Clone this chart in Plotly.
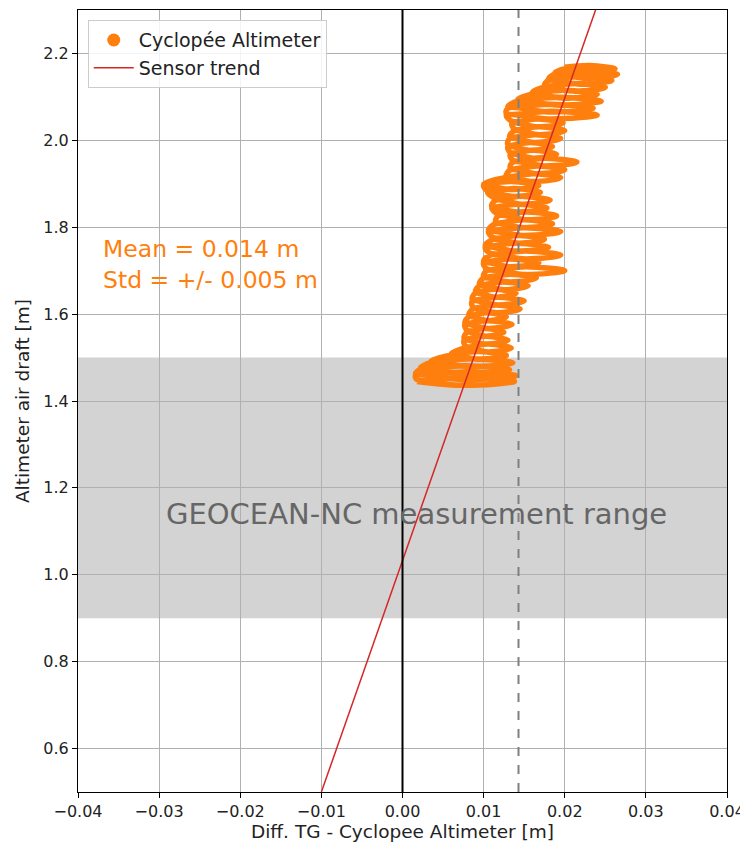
import plotly.graph_objects as go

diff_x = [
    0.0018, 0.0078, 0.0138, 0.0078, 0.0018,  0.0016, 0.0078, 0.0140, 0.0078, 0.0016,
    0.0022, 0.0077, 0.0132, 0.0077, 0.0022,  0.0035, 0.0086, 0.0136, 0.0086, 0.0035,
    0.0060, 0.0094, 0.0128, 0.0094, 0.0060,  0.0078, 0.0106, 0.0134, 0.0106, 0.0078,
    0.0076, 0.0103, 0.0130, 0.0103, 0.0076,  0.0080, 0.0103, 0.0125, 0.0103, 0.0080,
    0.0077, 0.0106, 0.0135, 0.0106, 0.0077,  0.0082, 0.0105, 0.0128, 0.0105, 0.0082,
    0.0087, 0.0116, 0.0145, 0.0116, 0.0087,  0.0086, 0.0118, 0.0150, 0.0118, 0.0086,
    0.0090, 0.0115, 0.0140, 0.0115, 0.0090,  0.0095, 0.0125, 0.0155, 0.0125, 0.0095,
    0.0100, 0.0133, 0.0165, 0.0133, 0.0100,  0.0104, 0.0152, 0.0200, 0.0152, 0.0104,
    0.0100, 0.0134, 0.0168, 0.0134, 0.0100,  0.0108, 0.0152, 0.0195, 0.0152, 0.0108,
    0.0102, 0.0141, 0.0180, 0.0141, 0.0102,  0.0112, 0.0144, 0.0175, 0.0144, 0.0112,
    0.0106, 0.0151, 0.0195, 0.0151, 0.0106,  0.0115, 0.0150, 0.0185, 0.0150, 0.0115,
    0.0118, 0.0154, 0.0190, 0.0154, 0.0118,  0.0110, 0.0144, 0.0178, 0.0144, 0.0110,
    0.0115, 0.0149, 0.0182, 0.0149, 0.0115,  0.0105, 0.0138, 0.0170, 0.0138, 0.0105,
    0.0100, 0.0134, 0.0168, 0.0134, 0.0100,  0.0128, 0.0162, 0.0195, 0.0162, 0.0128,
    0.0133, 0.0167, 0.0200, 0.0167, 0.0133,  0.0136, 0.0176, 0.0215, 0.0176, 0.0136,
    0.0133, 0.0162, 0.0190, 0.0162, 0.0133,  0.0130, 0.0158, 0.0185, 0.0158, 0.0130,
    0.0132, 0.0164, 0.0195, 0.0164, 0.0132,  0.0138, 0.0169, 0.0200, 0.0169, 0.0138,
    0.0135, 0.0167, 0.0198, 0.0167, 0.0135,  0.0128, 0.0184, 0.0240, 0.0184, 0.0128,
    0.0130, 0.0183, 0.0235, 0.0183, 0.0130,  0.0142, 0.0194, 0.0245, 0.0194, 0.0142,
    0.0160, 0.0200, 0.0240, 0.0200, 0.0160,  0.0175, 0.0213, 0.0250, 0.0213, 0.0175,
    0.0180, 0.0219, 0.0258, 0.0219, 0.0180,  0.0188, 0.0227, 0.0265, 0.0227, 0.0188,
    0.0200, 0.0231, 0.0262, 0.0231, 0.0200,
]
air_draft = [
    1.445, 1.436, 1.445, 1.454, 1.449,  1.458, 1.449, 1.458, 1.467, 1.462,
    1.472, 1.463, 1.472, 1.481, 1.476,  1.488, 1.479, 1.488, 1.497, 1.492,
    1.505, 1.496, 1.505, 1.514, 1.509,  1.522, 1.513, 1.522, 1.531, 1.526,
    1.540, 1.531, 1.540, 1.549, 1.544,  1.558, 1.549, 1.558, 1.567, 1.562,
    1.576, 1.567, 1.576, 1.585, 1.580,  1.594, 1.585, 1.594, 1.603, 1.598,
    1.612, 1.603, 1.612, 1.621, 1.616,  1.630, 1.621, 1.630, 1.639, 1.634,
    1.648, 1.639, 1.648, 1.657, 1.652,  1.665, 1.656, 1.665, 1.674, 1.669,
    1.683, 1.674, 1.683, 1.692, 1.687,  1.700, 1.691, 1.700, 1.709, 1.704,
    1.718, 1.709, 1.718, 1.727, 1.722,  1.736, 1.727, 1.736, 1.745, 1.740,
    1.754, 1.745, 1.754, 1.763, 1.758,  1.772, 1.763, 1.772, 1.781, 1.776,
    1.790, 1.781, 1.790, 1.799, 1.794,  1.808, 1.799, 1.808, 1.817, 1.812,
    1.826, 1.817, 1.826, 1.835, 1.830,  1.844, 1.835, 1.844, 1.853, 1.848,
    1.862, 1.853, 1.862, 1.871, 1.866,  1.880, 1.871, 1.880, 1.889, 1.884,
    1.896, 1.887, 1.896, 1.905, 1.900,  1.914, 1.905, 1.914, 1.923, 1.918,
    1.932, 1.923, 1.932, 1.941, 1.936,  1.950, 1.941, 1.950, 1.959, 1.954,
    1.968, 1.959, 1.968, 1.977, 1.972,  1.986, 1.977, 1.986, 1.995, 1.990,
    2.004, 1.995, 2.004, 2.013, 2.008,  2.022, 2.013, 2.022, 2.031, 2.026,
    2.040, 2.031, 2.040, 2.049, 2.044,  2.058, 2.049, 2.058, 2.067, 2.062,
    2.074, 2.065, 2.074, 2.083, 2.078,  2.090, 2.081, 2.090, 2.099, 2.094,
    2.106, 2.097, 2.106, 2.115, 2.110,  2.122, 2.113, 2.122, 2.131, 2.126,
    2.138, 2.129, 2.138, 2.147, 2.142,  2.152, 2.143, 2.152, 2.161, 2.156,
    2.164, 2.155, 2.164, 2.172, 2.168,
]

trend_x = [-0.0100, 0.0238]
trend_y = [0.5, 2.3]

mean_diff = 0.0143
range_low, range_high = 0.9, 1.5

x_ticks = [-0.04, -0.03, -0.02, -0.01, 0.0, 0.01, 0.02, 0.03, 0.04]
y_ticks = [0.6, 0.8, 1.0, 1.2, 1.4, 1.6, 1.8, 2.0, 2.2]

ORANGE = '#ff7f0e'
RED = '#d62728'

fig = go.Figure()

fig.add_trace(go.Scatter(x=diff_x, y=air_draft, mode='lines', showlegend=False,
                         line=dict(color=ORANGE, width=5.5, shape='spline', smoothing=1),
                         hoverinfo='skip'))
# legend stand-in for the altimeter points
fig.add_trace(go.Scatter(x=[None], y=[None], mode='markers', name='Cyclopée Altimeter',
                         marker=dict(color=ORANGE, size=13)))
fig.add_trace(go.Scatter(x=trend_x, y=trend_y, mode='lines', name='Sensor trend',
                         line=dict(color=RED, width=1.5)))

fig.add_shape(type='rect', xref='paper', yref='y', x0=0, x1=1, y0=range_low, y1=range_high,
              fillcolor='#d3d3d3', line_width=0, layer='below')
fig.add_shape(type='line', xref='x', yref='paper', x0=0, x1=0, y0=0, y1=1,
              line=dict(color='black', width=2))
fig.add_shape(type='line', xref='x', yref='paper', x0=mean_diff, x1=mean_diff, y0=0, y1=1,
              line=dict(color='gray', width=2, dash='dash'))

fig.add_annotation(x=0.0017, y=1.14, text='GEOCEAN-NC measurement range', showarrow=False,
                   font=dict(size=29, color='#666666'))
fig.add_annotation(x=-0.0372, y=1.715, xanchor='left', yanchor='middle', align='left',
                   text='Mean = 0.014 m<br>Std = +/- 0.005 m', showarrow=False,
                   font=dict(size=23.5, color=ORANGE))

axis_common = dict(showline=True, linecolor='black', linewidth=1, mirror=True,
                   ticks='outside', ticklen=5, tickcolor='black', automargin=False,
                   showgrid=True, gridcolor='#b0b0b0', gridwidth=1, zeroline=False,
                   tickfont=dict(size=16, color='#222'))

fig.update_xaxes(range=[-0.04, 0.04], tickvals=x_ticks, tickformat='.2f',
                 title=dict(text='Diff. TG - Cyclopee Altimeter [m]', font=dict(size=18.5, color='#222'),
                            standoff=4),
                 **axis_common)
fig.update_yaxes(range=[0.5, 2.3], tickvals=y_ticks, tickformat='.1f',
                 title=dict(text='Altimeter air draft [m]', font=dict(size=18.5, color='#222'),
                            standoff=8),
                 **axis_common)

# page body adds an 8px margin, so the figure is offset to keep the plot box in place
fig.update_layout(width=740, height=834, paper_bgcolor='white', plot_bgcolor='white',
                  font=dict(family='DejaVu Sans'),
                  margin=dict(l=70, r=21, t=2, b=50),
                  legend=dict(x=0.015, y=0.987, xanchor='left', yanchor='top',
                              bgcolor='rgba(255,255,255,0.85)', bordercolor='#cccccc', borderwidth=1,
                              font=dict(size=19, color='#222'), itemwidth=40))

fig.write_html("out.html")
